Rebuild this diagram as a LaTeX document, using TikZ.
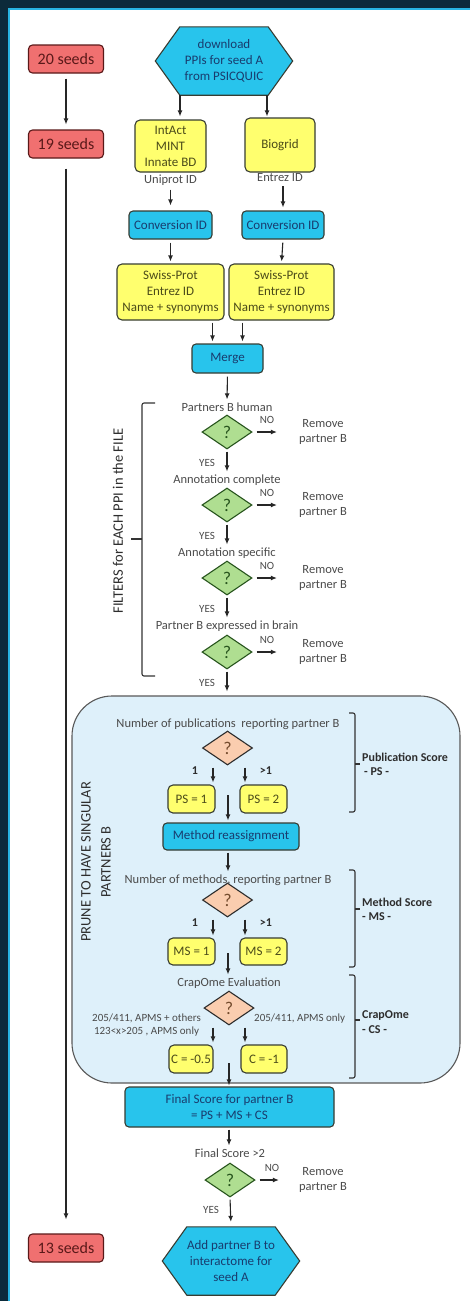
\documentclass[tikz,border=0pt]{standalone}
\usepackage{fontspec}
\setmainfont{Carlito}
\usetikzlibrary{shapes.geometric,arrows.meta,calc,backgrounds}
\definecolor{bgdark}{RGB}{12,42,58}
\definecolor{frameline}{RGB}{40,180,225}
\definecolor{cyanfill}{RGB}{40,196,236}
\definecolor{cyantext}{RGB}{25,60,110}
\definecolor{yelfill}{RGB}{255,255,110}
\definecolor{yeltext}{RGB}{75,75,25}
\definecolor{boxline}{RGB}{55,60,50}
\definecolor{redfill}{RGB}{240,112,112}
\definecolor{redtext}{RGB}{90,25,25}
\definecolor{greenfill}{RGB}{175,222,145}
\definecolor{greentext}{RGB}{40,85,30}
\definecolor{orangefill}{RGB}{250,205,175}
\definecolor{orangetext}{RGB}{115,75,45}
\definecolor{regionfill}{RGB}{222,240,250}
\definecolor{labeltext}{RGB}{75,75,75}
\definecolor{darklabel}{RGB}{45,45,45}
\begin{document}
\begin{tikzpicture}[x=1pt,y=-1pt,
  basefont/.style={font=\fontsize{13}{16}\selectfont, align=center},
  cyanbox/.style={basefont, draw=boxline, line width=1.1pt, fill=cyanfill, rounded corners=4pt, text=cyantext, inner sep=1pt},
  yelbox/.style={basefont, draw=boxline, line width=1.1pt, fill=yelfill, rounded corners=5pt, text=yeltext, inner sep=1pt},
  seedbox/.style={draw=redtext, line width=1.1pt, fill=redfill, rounded corners=4pt, text=redtext, font=\fontsize{16}{18}\selectfont, minimum width=75pt, minimum height=28pt, inner sep=1pt},
  hextext/.style={basefont, text=cyantext, minimum width=88pt, minimum height=68pt, inner sep=0pt},
  hexshape/.style={draw=boxline, line width=1.1pt, fill=cyanfill},
  gdiam/.style={diamond, draw=greentext, line width=1.1pt, fill=greenfill, minimum width=50pt, minimum height=34pt, inner sep=0pt, text=greentext, font=\fontsize{18}{18}\selectfont},
  odiam/.style={diamond, draw=darklabel, line width=1.1pt, fill=orangefill, minimum width=50pt, minimum height=34pt, inner sep=0pt, text=orangetext, font=\fontsize{18}{18}\selectfont},
  lbl/.style={text=labeltext, font=\fontsize{12.5}{15}\selectfont, align=center, inner sep=1pt},
  small/.style={text=labeltext, font=\fontsize{11}{13.5}\selectfont, inner sep=1pt},
  numlbl/.style={text=darklabel, font=\bfseries\fontsize{12}{14}\selectfont, inner sep=1pt},
  score/.style={text=darklabel, font=\bfseries\fontsize{12}{15}\selectfont, align=left, anchor=west, inner sep=0pt},
  arr/.style={-{Latex[length=6pt,width=5pt]}, line width=1.1pt, draw=black!85},
  bracketline/.style={line width=1.1pt, draw=black!80, rounded corners=2pt},
  region/.style={draw=black!65, line width=1.1pt, fill=regionfill, rounded corners=40pt, minimum width=388pt, minimum height=387pt}
]
\useasboundingbox (0,0) rectangle (470,1301);
% frame
\begin{scope}[on background layer]
\fill[bgdark] (0,0) rectangle (470,1301);
\fill[white] (9,9) rectangle (470,1301);
\draw[frameline, line width=2pt] (9,1301) -- (9,9) -- (470,9);
\end{scope}

% seeds
\node[seedbox] (s20) at (66,59) {20 seeds};
\node[seedbox] (s19) at (66,144) {19 seeds};
\node[seedbox] (s13) at (66,1248) {13 seeds};
\draw[arr, shorten <=5pt, shorten >=5pt] (s20.south) -- (s19.north);
\draw[arr, shorten <=10pt, shorten >=14pt] (s19.south) -- (s13.north);

% top part
\node[hextext] (hexA) at (224,61) {download\\PPIs for seed A\\from PSICQUIC};
\node[yelbox, minimum width=71pt, minimum height=52pt] (intact) at (170.5,146) {IntAct\\MINT\\Innate BD};
\node[yelbox, minimum width=70pt, minimum height=54pt] (biogrid) at (280,145) {Biogrid};
\node[lbl] (uniprot) at (170.5,180) {Uniprot ID};
\node[lbl] (entrez) at (280,178) {Entrez ID};
\node[cyanbox, minimum width=83pt, minimum height=28pt] (conv1) at (170.5,225) {Conversion ID};
\node[cyanbox, minimum width=82pt, minimum height=28pt] (conv2) at (283,225) {Conversion ID};
\node[yelbox, minimum width=107pt, minimum height=56pt] (sp1) at (170.5,292) {Swiss-Prot\\Entrez ID\\Name + synonyms};
\node[yelbox, minimum width=105pt, minimum height=56pt] (sp2) at (281.5,292) {Swiss-Prot\\Entrez ID\\Name + synonyms};
\node[cyanbox, minimum width=71pt, minimum height=29pt] (merge) at (227.5,358.5) {Merge};

\draw[arr, shorten >=3pt] ([xshift=-44pt]hexA.south) -- ([xshift=-44pt]hexA.south |- intact.north);
\draw[arr, shorten >=1pt] ([xshift=43pt]hexA.south) -- ([xshift=43pt]hexA.south |- biogrid.north);
\draw[arr, shorten <=3pt, shorten >=5pt] (uniprot.south) -- (conv1.north);
\draw[arr, shorten <=3pt, shorten >=3pt] (entrez.south -| conv2.north) -- (conv2.north);
\draw[arr, shorten <=3pt, shorten >=2pt] (conv1.south) -- (sp1.north);
\draw[arr, shorten <=3pt, shorten >=2pt] (conv2.south) -- (sp2.north);
\draw[arr, shorten <=2pt, shorten >=2pt] ([xshift=-15pt]merge.north |- sp1.south) -- ([xshift=-15pt]merge.north);
\draw[arr, shorten <=2pt, shorten >=2pt] ([xshift=15pt]merge.north |- sp2.south) -- ([xshift=15pt]merge.north);

% filters
\node[lbl] (q1) at (227,407) {Partners B human};
\node[gdiam] (g1) at (227,432) {?};
\node[lbl] (q2) at (227,480) {Annotation complete};
\node[gdiam] (g2) at (227,505) {?};
\node[lbl] (q3) at (227,553) {Annotation specific};
\node[gdiam] (g3) at (227,578) {?};
\node[lbl] (q4) at (227,626) {Partner B expressed in brain};
\node[gdiam] (g4) at (227,652) {?};
\draw[arr, shorten <=3pt, shorten >=2pt] (merge.south) -- (q1.north);

\foreach \g/\yy in {g1/432,g2/505,g3/578,g4/652}{
  \node[lbl] (rem\g) at (323,\yy) {Remove\\partner B};
  \node[small] (no\g) at (267,\yy-12) {NO};
  \draw[arr, shorten <=4pt] (\g.east) -- ([xshift=-21pt]rem\g.west);
  \node[small] (yes\g) at (207,\yy+31) {YES};
}
\draw[arr, shorten <=2pt, shorten >=2pt] (g1.south) -- (q2.north);
\draw[arr, shorten <=2pt, shorten >=2pt] (g2.south) -- (q3.north);
\draw[arr, shorten <=2pt, shorten >=2pt] (g3.south) -- (q4.north);

\draw[bracketline] (155,403) -- (142,403) -- (142,676) -- (155,676);
\draw[bracketline] (142,539) -- (131,539);
\node[rotate=90, text=darklabel, font=\fontsize{14.5}{17}\selectfont] (filters) at (118,521) {FILTERS for EACH PPI in the FILE};

% region
\node[region] (region) at (266,889.5) {};
\draw[arr, shorten <=2pt, shorten >=4pt] (g4.south) -- (g4.south |- region.north);
\node[align=center, text=darklabel, font=\fontsize{14.5}{20}\selectfont, rotate=90] (prune) at (96,862) {PRUNE TO HAVE SINGULAR\\PARTNERS B};

% publication score
\node[lbl] (pubq) at (228,724) {Number of publications~ reporting partner B};
\node[odiam] (pd1) at (227.5,748) {?};
\node[yelbox, minimum width=47pt, minimum height=28pt] (ps1) at (191.5,799) {PS = 1};
\node[yelbox, minimum width=47pt, minimum height=28pt] (ps2) at (263.5,799) {PS = 2};
\draw[arr, shorten <=1pt, shorten >=2pt] ([xshift=-14.5pt,yshift=-1pt]pd1.south) -- ([xshift=-14.5pt]pd1.south |- ps1.north);
\draw[arr, shorten <=1pt, shorten >=2pt] ([xshift=17.5pt,yshift=-1pt]pd1.south) -- ([xshift=17.5pt]pd1.south |- ps2.north);
\node[numlbl] (one1) at (195,771) {1};
\node[numlbl] (gt1) at (266,771) {>1};
\node[cyanbox, minimum width=136pt, minimum height=27pt] (meth) at (231,836.5) {Method reassignment};
\coordinate (psmid) at (228,795);
\draw[arr, shorten >=2pt] (psmid) -- (psmid |- meth.north);

% method score
\node[lbl] (methq) at (228,880) {Number of methods, reporting partner B};
\draw[arr, shorten <=2pt, shorten >=2pt] (meth.south -| psmid) -- (methq.north -| psmid);
\node[odiam] (pd2) at (227.5,900) {?};
\node[yelbox, minimum width=47pt, minimum height=27pt] (ms1) at (191.5,951.5) {MS = 1};
\node[yelbox, minimum width=47pt, minimum height=27pt] (ms2) at (263.5,951.5) {MS = 2};
\draw[arr, shorten <=1pt, shorten >=2pt] ([xshift=-14.5pt,yshift=-1pt]pd2.south) -- ([xshift=-14.5pt]pd2.south |- ms1.north);
\draw[arr, shorten <=1pt, shorten >=2pt] ([xshift=17.5pt,yshift=-1pt]pd2.south) -- ([xshift=17.5pt]pd2.south |- ms2.north);
\node[numlbl] (one2) at (195,923) {1};
\node[numlbl] (gt2) at (266,923) {>1};

% crapome
\node[lbl] (crapq) at (229,983) {CrapOme Evaluation};
\coordinate (msmid) at (228,953);
\draw[arr, shorten >=2pt] (msmid) -- (msmid |- crapq.north);
\node[odiam] (pd3) at (229,1008) {?};
\node[small, align=center, anchor=east] (leftc) at (202,1025) {205/411, APMS + others\\123<x>205 , APMS only};
\node[small, anchor=west] (rightc) at (253,1019) {205/411, APMS only};
\node[yelbox, minimum width=44pt, minimum height=28pt] (c1) at (191,1059) {C = -0.5};
\node[yelbox, minimum width=46pt, minimum height=28pt] (c2) at (264,1059) {C = -1};
\draw[arr, shorten <=1pt, shorten >=2pt] ([xshift=-16pt,yshift=-1pt]pd3.south) -- ([xshift=-16pt]pd3.south |- c1.north);
\draw[arr, shorten <=1pt, shorten >=2pt] ([xshift=16pt,yshift=-1pt]pd3.south) -- ([xshift=16pt]pd3.south |- c2.north);

% right brackets
\draw[bracketline] (349,713) -- (355,713) -- (355,812) -- (349,812);
\draw[bracketline] (355,764) -- (360,764);
\node[score] (pslbl) at (362,757) {Publication Score};
\node[score] (pssub) at (364,772) {- PS -};
\draw[bracketline] (349,870) -- (355,870) -- (355,967) -- (349,967);
\draw[bracketline] (355,909) -- (360,909);
\node[score] (mslbl) at (362,902) {Method Score};
\node[score] (mssub) at (362,917) {- MS -};
\draw[bracketline] (349,975) -- (355,975) -- (355,1078) -- (349,1078);
\draw[bracketline] (355,1020) -- (360,1020);
\node[score] (cslbl) at (362,1015) {CrapOme};
\node[score] (cssub) at (362,1030) {- CS -};

% final
\node[cyanbox, minimum width=209pt, minimum height=40pt] (final) at (229.5,1107) {Final Score for partner B\\= PS + MS + CS};
\coordinate (cmid) at (229,1063);
\draw[arr, shorten >=1pt] (cmid) -- (cmid |- final.north);
\node[lbl] (fq) at (230,1153) {Final Score >2};
\draw[arr, shorten <=2pt, shorten >=2pt] (final.south -| cmid) -- (fq.north -| cmid);
\node[gdiam] (g5) at (230,1180) {?};
\node[lbl] (rem5) at (323,1180) {Remove\\partner B};
\node[small] (no5) at (272,1168) {NO};
\draw[arr, shorten <=4pt] (g5.east) -- ([xshift=-19pt]rem5.west);
\node[small] (yes5) at (211,1210) {YES};
\node[hextext] (hexB) at (231,1261) {Add partner B to\\interactome for\\seed A};
\draw[arr, shorten <=2pt, shorten >=5pt] (g5.south) -- (hexB.north);

% hexagons
\begin{scope}[on background layer]
\draw[hexshape] (hexA.north west) -- (hexA.north east) -- ($(hexA.east)+(24.5,0)$) -- (hexA.south east) -- (hexA.south west) -- ($(hexA.west)+(-24.5,0)$) -- cycle;
\draw[hexshape] (hexB.north west) -- (hexB.north east) -- ($(hexB.east)+(24.5,0)$) -- (hexB.south east) -- (hexB.south west) -- ($(hexB.west)+(-24.5,0)$) -- cycle;
\end{scope}
\end{tikzpicture}
\end{document}
